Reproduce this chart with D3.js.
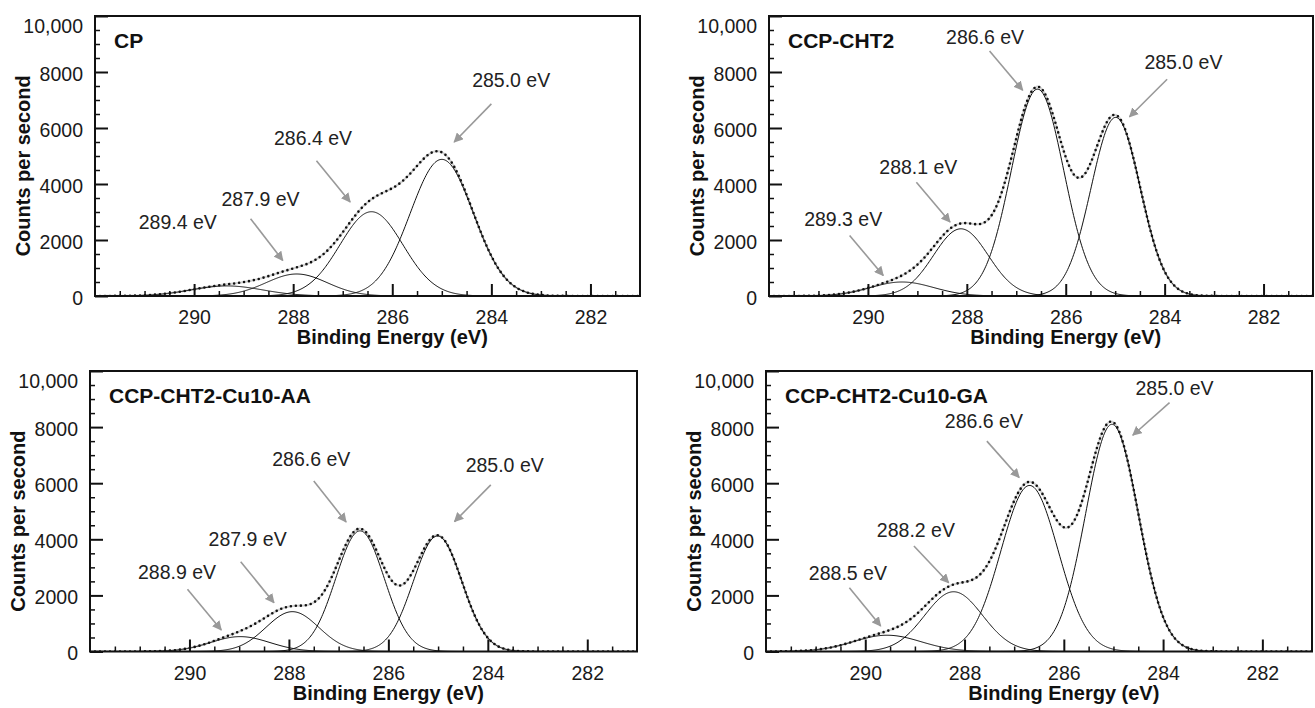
<!DOCTYPE html>
<html>
<head>
<meta charset="utf-8">
<script src="https://cdn.jsdelivr.net/npm/d3@7"></script>
<style>
  body { margin: 0; background: #fff; }
  text { font-family: "Liberation Sans", Arial, Helvetica, sans-serif; }
</style>
</head>
<body>
<svg id="chart" width="1315" height="708"></svg>
<script>
// ---- data ----
var sampleNames = ["CP", "CCP-CHT2", "CCP-CHT2-Cu10-AA", "CCP-CHT2-Cu10-GA"];

var peakLabels = [
  ["285.0 eV", "286.4 eV", "287.9 eV", "289.4 eV"],
  ["285.0 eV", "286.6 eV", "288.1 eV", "289.3 eV"],
  ["285.0 eV", "286.6 eV", "287.9 eV", "288.9 eV"],
  ["285.0 eV", "286.6 eV", "288.2 eV", "288.5 eV"]
];
// fitted component centres (eV), heights (counts/s) and FWHM (eV)
var peakCenters = [
  [285.0, 286.42, 287.93, 289.34],
  [284.99, 286.57, 288.12, 289.31],
  [285.01, 286.57, 287.93, 288.98],
  [285.03, 286.69, 288.22, 289.56]
];
var peakHeights = [
  [4880, 3010, 786, 360],
  [6380, 7390, 2400, 500],
  [4120, 4300, 1420, 530],
  [8100, 5920, 2130, 580]
];
var peakFwhm = [
  [1.5, 1.5, 1.45, 1.7],
  [1.17, 1.25, 1.3, 1.5],
  [1.15, 1.15, 1.25, 1.4],
  [1.25, 1.36, 1.37, 1.6]
];

var energyTicks = [290, 288, 286, 284, 282];
var energyMinor = [291.5, 291, 290.5, 289.5, 289, 288.5, 287.5, 287, 286.5, 285.5, 285, 284.5, 283.5, 283, 282.5, 281.5];
var countTicks = [0, 2000, 4000, 6000, 8000, 10000];
var countTickLabels = ["0", "2000", "4000", "6000", "8000", "10,000"];
var countMinor = [500, 1000, 1500, 2500, 3000, 3500, 4500, 5000, 5500, 6500, 7000, 7500, 8500, 9000, 9500];

// ---- layout ----
var boxes = [
  {l: 95, r: 640, t: 16, b: 296},
  {l: 769, r: 1313, t: 16, b: 296},
  {l: 90, r: 637, t: 371, b: 651.5},
  {l: 766, r: 1312, t: 371, b: 651.5}
];
// annotation placement in data units: text centre, arrow start, arrow end (null = no arrow)
var notes = [
  [[283.6, 7714, 284.0, 6860, 284.75, 5500],
   [287.6, 5650, 287.53, 4830, 286.85, 3360],
   [288.66, 3450, 288.86, 2760, 288.21, 1270],
   [290.33, 2620, null]],
  [[283.62, 8340, 283.95, 7740, 284.71, 6400],
   [287.63, 9250, 287.54, 8750, 286.87, 7350],
   [288.98, 4600, 289.02, 4060, 288.34, 2640],
   [290.5, 2750, 290.37, 2160, 289.69, 735]],
  [[283.66, 6640, 283.94, 5940, 284.67, 4630],
   [287.55, 6850, 287.5, 6080, 286.85, 4620],
   [288.83, 4000, 288.97, 3200, 288.3, 1740],
   [290.25, 2830, 290.04, 2220, 289.36, 770]],
  [[283.77, 9400, 283.87, 8870, 284.61, 7710],
   [287.61, 8220, 287.55, 7500, 286.9, 6200],
   [288.98, 4330, 289.02, 3760, 288.32, 2450],
   [290.35, 2810, 290.32, 2270, 289.69, 910]]
];

var svg = d3.select("#chart");
svg.append("rect").attr("width", 1315).attr("height", 708).attr("fill", "#fff");

var defs = svg.append("defs");
defs.append("marker")
  .attr("id", "arrowhead")
  .attr("viewBox", "0 0 10 10")
  .attr("refX", 9).attr("refY", 5)
  .attr("markerWidth", 6).attr("markerHeight", 6)
  .attr("markerUnits", "strokeWidth")
  .attr("orient", "auto")
  .append("path").attr("d", "M0,0 L10,5 L0,10 z").attr("fill", "#999");

var energyGrid = d3.range(292, 280.99, -0.02);

function gauss(e, c, h, w) {
  var s = w / 2.3548;
  return h * Math.exp(-(e - c) * (e - c) / (2 * s * s));
}

sampleNames.forEach(function(name, p) {
  var bx = boxes[p];
  var x = d3.scaleLinear().domain([292, 281]).range([bx.l, bx.r]);
  var y = d3.scaleLinear().domain([0, 10000]).range([bx.b, bx.t]);
  var g = svg.append("g").attr("id", "panel" + p);

  defs.append("clipPath").attr("id", "clip" + p)
    .append("rect").attr("x", bx.l).attr("y", bx.t).attr("width", bx.r - bx.l).attr("height", bx.b - bx.t);

  var plot = g.append("g").attr("clip-path", "url(#clip" + p + ")");
  var line = d3.line().x(function(d) { return x(d[0]); }).y(function(d) { return y(d[1]); });

  var comps = peakCenters[p].map(function(c, i) {
    return energyGrid.map(function(e) { return [e, gauss(e, c, peakHeights[p][i], peakFwhm[p][i])]; });
  });
  var env = energyGrid.map(function(e, k) {
    return [e, d3.sum(comps, function(cp) { return cp[k][1]; })];
  });

  // faint measured trace under the envelope
  plot.append("path").attr("d", line(env)).attr("fill", "none")
    .attr("stroke", "#d4d4d4").attr("stroke-width", 2.2);

  plot.selectAll("path.comp").data(comps).enter().append("path")
    .attr("class", "comp")
    .attr("d", line).attr("fill", "none")
    .attr("stroke", "#111").attr("stroke-width", 1);

  plot.append("path").attr("d", line(env)).attr("fill", "none")
    .attr("stroke", "#111").attr("stroke-width", 2.6)
    .attr("stroke-linecap", "round").attr("stroke-dasharray", "0,5");

  // axes: inward ticks
  var xMaj = d3.axisBottom(x).tickValues(energyTicks).tickSize(-12).tickPadding(14.5).tickFormat(d3.format("d"));
  var xMin = d3.axisBottom(x).tickValues(energyMinor).tickSize(-5).tickFormat("");
  var yMaj = d3.axisLeft(y).tickValues(countTicks).tickSize(-13).tickPadding(12)
    .tickFormat(function(d, i) { return countTickLabels[i]; });
  var yMin = d3.axisLeft(y).tickValues(countMinor).tickSize(-5).tickFormat("");

  [[xMaj, 2], [xMin, 1.5]].forEach(function(a) {
    var ax = g.append("g").attr("transform", "translate(0," + bx.b + ")").call(a[0]);
    ax.select(".domain").remove();
    ax.selectAll("line").attr("stroke", "#111").attr("stroke-width", a[1]);
    ax.selectAll("text").attr("font-size", 19.5).attr("fill", "#1a1a1a");
  });
  [[yMaj, 2], [yMin, 1.5]].forEach(function(a) {
    var ax = g.append("g").attr("transform", "translate(" + bx.l + ",0)").call(a[0]);
    ax.select(".domain").remove();
    ax.selectAll("line").attr("stroke", "#111").attr("stroke-width", a[1]);
    ax.selectAll("text").attr("font-size", 19.5).attr("fill", "#1a1a1a")
      .attr("dy", function(d) { return d === 10000 ? "0.82em" : "0.43em"; });
  });

  g.append("rect").attr("x", bx.l).attr("y", bx.t).attr("width", bx.r - bx.l).attr("height", bx.b - bx.t)
    .attr("fill", "none").attr("stroke", "#111").attr("stroke-width", 2);

  // titles
  g.append("text").attr("x", bx.l + 19).attr("y", bx.t + 32)
    .attr("font-size", 21).attr("font-weight", "bold").attr("fill", "#111").text(name);
  g.append("text").attr("x", x(286)).attr("y", bx.b + 48).attr("text-anchor", "middle")
    .attr("font-size", 20).attr("font-weight", "bold").attr("fill", "#111").text("Binding Energy (eV)");
  g.append("text").attr("transform", "translate(" + (bx.l - 65) + "," + y(4650) + ") rotate(-90)")
    .attr("text-anchor", "middle").attr("font-size", 20).attr("font-weight", "bold").attr("fill", "#111")
    .text("Counts per second");

  // peak annotations
  notes[p].forEach(function(n, i) {
    g.append("text").attr("x", x(n[0])).attr("y", y(n[1])).attr("dy", "0.35em")
      .attr("text-anchor", "middle").attr("font-size", 19.5).attr("fill", "#222")
      .text(peakLabels[p][i]);
    if (n[2] !== null) {
      g.append("line")
        .attr("x1", x(n[2])).attr("y1", y(n[3]))
        .attr("x2", x(n[4])).attr("y2", y(n[5]))
        .attr("stroke", "#999").attr("stroke-width", 1.6)
        .attr("marker-end", "url(#arrowhead)");
    }
  });
});
</script>
</body>
</html>
